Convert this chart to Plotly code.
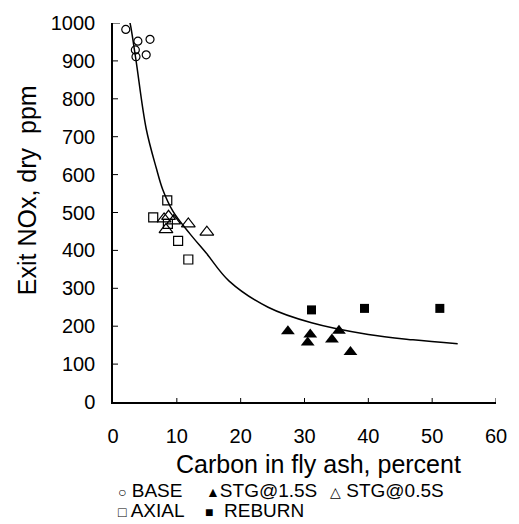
import plotly.graph_objects as go

# ---- data ----
base_x = [2.0, 3.9, 5.8, 3.5, 5.2, 3.6]
base_y = [983, 952, 957, 929, 916, 911]
stg15_x = [27.4, 30.9, 30.5, 34.3, 35.4, 37.2]
stg15_y = [187, 178, 157, 165, 188, 132]
stg05_x = [8.0, 8.7, 9.5, 8.3, 11.8, 14.7]
stg05_y = [483, 490, 478, 455, 470, 448]
axial_x = [6.3, 8.5, 8.6, 10.2, 11.8]
axial_y = [487, 532, 470, 425, 376]
reburn_x = [31.1, 39.4, 51.2]
reburn_y = [243, 247, 247]
fit_x = [2.6, 2.8, 3.6, 5.2, 6.8, 7.8, 9.4, 12, 14.6, 18.2, 24.3, 31.1, 40, 47, 54]
fit_y = [1005, 989, 902, 721, 616, 560, 503, 445, 393, 319, 250, 209, 178, 164, 154]

x_ticks = [0, 10, 20, 30, 40, 50, 60]
y_ticks = [0, 100, 200, 300, 400, 500, 600, 700, 800, 900, 1000]
legend_rows = [
    [("○", " BASE"), ("▲", "STG@1.5S"), ("△", " STG@0.5S")],
    [("□", " AXIAL"), ("■", "  REBURN")],
]

FONT = "Liberation Sans, Arial, sans-serif"
W, H = 519, 524
L, R, T, B = 113.3, 20, 17.7, 121.7
PW, PH = W - L - R, H - T - B


def px(xp):
    return (xp - L) / PW


def py(yp):
    return (H - B - yp) / PH


fig = go.Figure()
fig.add_trace(go.Scatter(x=fit_x, y=fit_y, mode="lines",
                         line=dict(color="black", width=1.5, shape="spline", smoothing=1),
                         showlegend=False, hoverinfo="skip"))
fig.add_trace(go.Scatter(x=base_x, y=base_y, mode="markers", name="BASE", cliponaxis=False,
                         marker=dict(symbol="circle-open", size=8, color="black", line=dict(width=1.2))))
fig.add_trace(go.Scatter(x=stg15_x, y=stg15_y, mode="markers", name="STG@1.5S", cliponaxis=False,
                         marker=dict(symbol="triangle-up", size=12, color="black")))
fig.add_trace(go.Scatter(x=stg05_x, y=stg05_y, mode="markers", name="STG@0.5S", cliponaxis=False,
                         marker=dict(symbol="triangle-up-open", size=12, color="black", line=dict(width=1.2))))
fig.add_trace(go.Scatter(x=axial_x, y=axial_y, mode="markers", name="AXIAL", cliponaxis=False,
                         marker=dict(symbol="square-open", size=9, color="black", line=dict(width=1.2))))
fig.add_trace(go.Scatter(x=reburn_x, y=reburn_y, mode="markers", name="REBURN", cliponaxis=False,
                         marker=dict(symbol="square", size=9, color="black")))

shapes = []
for v in x_ticks[1:]:
    shapes.append(dict(type="line", xref="x", yref="y", x0=v, x1=v, ysizemode="pixel", yanchor=0,
                       y0=-4, y1=4, line=dict(color="black", width=1)))
for v in y_ticks[1:]:
    w = 7 if v == y_ticks[-1] else 5
    shapes.append(dict(type="line", xref="x", yref="y", y0=v, y1=v, xsizemode="pixel", xanchor=0,
                       x0=-5, x1=w, line=dict(color="black", width=1)))
shapes.append(dict(type="line", xref="x", yref="y", y0=0, y1=0, xsizemode="pixel", xanchor=0,
                   x0=-5, x1=0, line=dict(color="black", width=1)))

annotations = [
    dict(text="Carbon in fly ash, percent", x=px(320), y=py(465), xref="paper", yref="paper",
         showarrow=False, font=dict(family=FONT, size=25, color="black"), xanchor="center", yanchor="middle"),
    dict(text="Exit NOx, dry  ppm", x=px(27), y=py(187), xref="paper", yref="paper", textangle=-90,
         showarrow=False, font=dict(family=FONT, size=25, color="black"), xanchor="center", yanchor="middle"),
]
row_y = [492, 512]
item_x = [[116, 205, 330], [116, 204]]
for r, row in enumerate(legend_rows):
    for i, (sym, lab) in enumerate(row):
        annotations.append(dict(
            text=f"<span style='font-size:14px'>{sym}</span>{lab}",
            x=px(item_x[r][i]), y=py(row_y[r]), xref="paper", yref="paper",
            showarrow=False, xanchor="left", yanchor="middle",
            font=dict(family=FONT, size=19, color="black")))

fig.update_layout(
    width=W, height=H,
    margin=dict(l=L, r=R, t=T, b=B, pad=0),
    paper_bgcolor="white", plot_bgcolor="white",
    showlegend=False,
    font=dict(family=FONT, color="black"),
    xaxis=dict(range=[0, 60], tickvals=x_ticks, ticks="", showgrid=False, zeroline=False,
               showline=True, linecolor="black", linewidth=1.5,
               tickfont=dict(family=FONT, size=20, color="black"), ticklabelstandoff=15),
    yaxis=dict(range=[0, 1000], tickvals=y_ticks, ticks="", showgrid=False, zeroline=False,
               showline=True, linecolor="black", linewidth=1.5,
               tickfont=dict(family=FONT, size=20, color="black"), ticklabelstandoff=12),
    shapes=shapes,
    annotations=annotations,
)

fig.write_html("out.html")
